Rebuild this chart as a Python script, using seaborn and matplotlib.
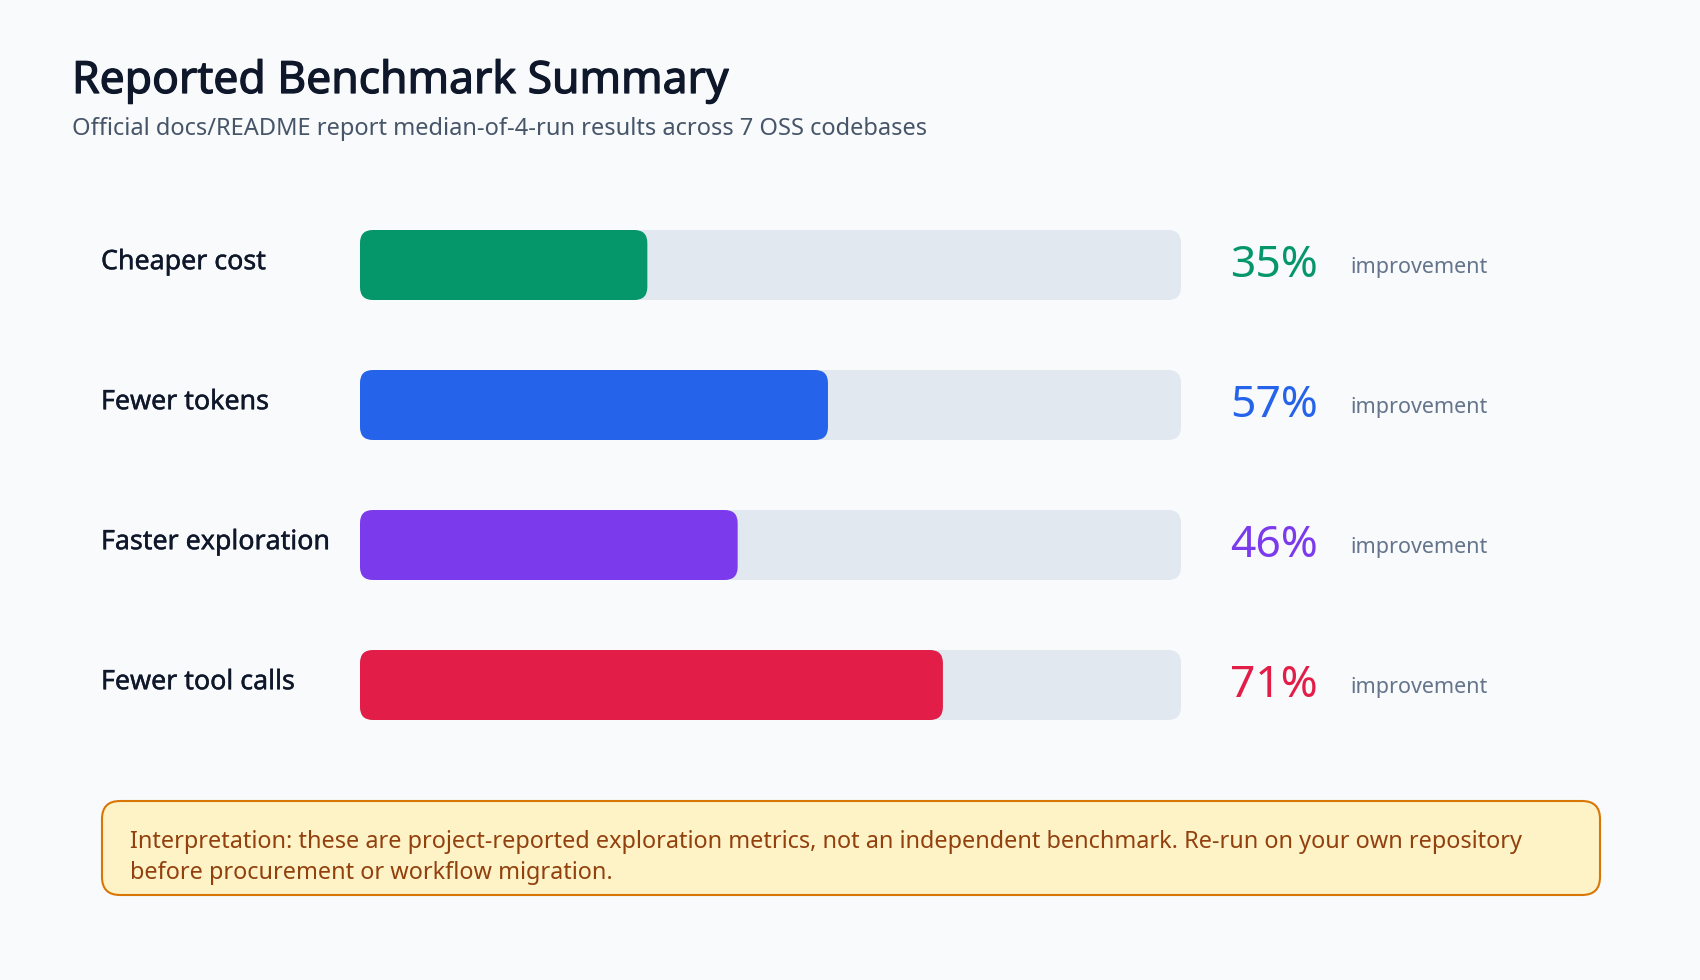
import matplotlib
matplotlib.use("Agg")
import matplotlib.pyplot as plt
import matplotlib.transforms as mtransforms
import matplotlib.patheffects as pe
from matplotlib.patches import FancyBboxPatch
import seaborn as sns
import pandas as pd

# chart data
metrics = ["Cheaper cost", "Fewer tokens", "Faster exploration", "Fewer tool calls"]
improvement_pct = [35, 57, 46, 71]
bar_colors = ["#059669", "#2563eb", "#7c3aed", "#e11d48"]
track_max = 100

title = "Reported Benchmark Summary"
subtitle = "Official docs/README report median-of-4-run results across 7 OSS codebases"
note_lines = [
    "Interpretation: these are project-reported exploration metrics, not an independent benchmark. Re-run on your own repository",
    "before procurement or workflow migration.",
]

BG = "#f8fafc"
TRACK = "#e2e8f0"
INK = "#0f172a"

sns.set_theme(style="white")
plt.rcParams["font.family"] = ["Noto Sans", "DejaVu Sans"]

df = pd.DataFrame({"metric": metrics, "pct": improvement_pct,
                   "track": [track_max] * len(metrics)})

W, H = 1700, 980
fig = plt.figure(figsize=(W / 100, H / 100), dpi=100, facecolor=BG)

# bar area in pixels: x 360..1181, rows from 195 to 755 (top-down)
ax = fig.add_axes([360 / W, (H - 755) / H, 821 / W, 560 / H])
ax.set_facecolor(BG)

sns.barplot(data=df, x="track", y="metric", color=TRACK, width=0.5,
            saturation=1, ax=ax)
sns.barplot(data=df, x="pct", y="metric", hue="metric", palette=bar_colors,
            width=0.5, saturation=1, legend=False, ax=ax)
ax.set_xlim(0, track_max)
ax.set_ylim(len(metrics) - 0.5, -0.5)
ax.axis("off")


def round_bars(ax, radius_px):
    """swap the plain rectangles for rounded ones"""
    p0 = ax.transData.transform((0, 0))
    p1 = ax.transData.transform((1, 1))
    px_x = abs(p1[0] - p0[0])
    px_y = abs(p1[1] - p0[1])
    r = radius_px / px_x
    aspect = px_x / px_y
    for bar in list(ax.patches):
        x, y = bar.get_x(), bar.get_y()
        w, h = bar.get_width(), bar.get_height()
        fb = FancyBboxPatch((x, y), w, h,
                            boxstyle=f"round,pad=0,rounding_size={r}",
                            mutation_aspect=aspect,
                            facecolor=bar.get_facecolor(), edgecolor="none",
                            zorder=bar.get_zorder())
        bar.set_visible(False)
        ax.add_patch(fb)


round_bars(ax, 13)

# a thin stroke stands in for the medium weight the font lacks
label_fx = [pe.withStroke(linewidth=0.3, foreground=INK)]
title_fx = [pe.withStroke(linewidth=0.9, foreground=INK)]

row_tf = mtransforms.blended_transform_factory(fig.transFigure, ax.transData)
for i, (name, val, col) in enumerate(zip(metrics, improvement_pct, bar_colors)):
    ax.text(101 / W, i - 0.02, name, transform=row_tf, ha="left", va="center",
            fontsize=19.3, color=INK, path_effects=label_fx)
    ax.text(1318 / W, i + 0.01, f"{val}%", transform=row_tf, ha="right",
            va="center", fontsize=32, color=col)
    ax.text(1350 / W, i + 0.02, "improvement", transform=row_tf, ha="left",
            va="center", fontsize=15.5, color="#64748b")

# title block
fig.text(72 / W, 1 - 82 / H, title, ha="left", va="center", fontsize=32,
         color=INK, path_effects=title_fx)
fig.text(72 / W, 1 - 129 / H, subtitle, ha="left", va="center", fontsize=17,
         color="#475569")

# interpretation box
box = FancyBboxPatch((102, H - 895), 1498, 94,
                     boxstyle="round,pad=0,rounding_size=18",
                     transform=mtransforms.IdentityTransform(),
                     facecolor="#fef3c7", edgecolor="#d97706", linewidth=1.5)
fig.add_artist(box)
fig.text(130 / W, 1 - 842 / H, note_lines[0], ha="left", va="center",
         fontsize=16.9, color="#92400e")
fig.text(130 / W, 1 - 873 / H, note_lines[1], ha="left", va="center",
         fontsize=16.9, color="#92400e")

fig.savefig("out.png", dpi=100, facecolor=BG)
